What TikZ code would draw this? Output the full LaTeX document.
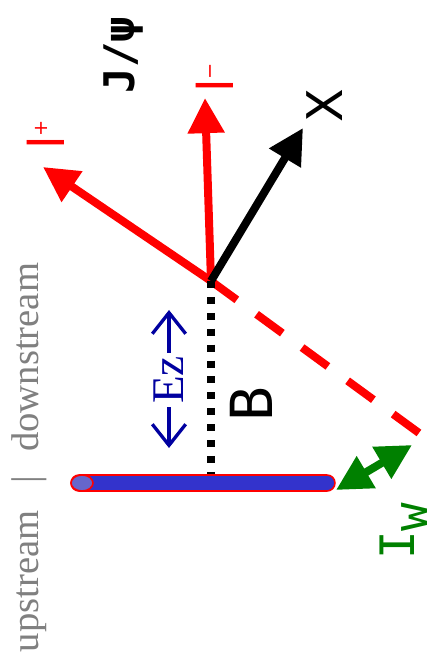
\documentclass[tikz,border=0pt]{standalone}
\usepackage{fontspec}
\setmainfont{Liberation Serif}
\newfontfamily\dvs{DejaVu Sans}
\newfontfamily\dvm{DejaVu Sans Mono}
\usetikzlibrary{arrows.meta,shapes.geometric}
\definecolor{trkred}{RGB}{255,0,0}
\definecolor{wgreen}{RGB}{0,128,0}
\definecolor{barblue}{RGB}{51,51,204}
\definecolor{capblue}{RGB}{102,102,204}
\definecolor{ezblue}{RGB}{0,0,160}
\definecolor{labgray}{RGB}{128,128,128}
\tikzset{
  bigtip/.tip={Triangle[length=20pt,width=20pt]},
  trk/.style={line width=4.55pt,-bigtip},
  lbl/.style={rotate=90,inner sep=0pt},
  ezarrow/.style={ezblue, line width=1.9pt, -{Straight Barb[length=12pt,width=19pt]}},
}
\begin{document}
\begin{tikzpicture}[x=0.02cm,y=-0.02cm]
\useasboundingbox (0,0) rectangle (431,671);
% coordinates
\coordinate (V) at (211,281);
\coordinate (lp) at (43,167);
\coordinate (lm) at (205,98);
\coordinate (xt) at (303,128);
\coordinate (de) at (419,433);
\coordinate (wa) at (336,490);
\coordinate (wb) at (412,445);
\coordinate (ezt) at (169,310);
\coordinate (ezb) at (169,448);
% wire
\node[draw=trkred, line width=0.9pt, fill=barblue, rounded corners=0.16cm,
      minimum width=5.28cm, minimum height=0.32cm, inner sep=0pt] (wire) at (203,483) {};
\node[ellipse, draw=trkred, line width=0.9pt, fill=capblue,
      minimum width=0.44cm, minimum height=0.32cm, inner sep=0pt] (cap) at (82,483) {};
% tracks
\draw[trkred, line width=4.55pt, dash pattern=on 18.2pt off 13.9pt] (V) -- (de);
\draw[trk, trkred] (V) -- (lp);
\draw[trk, trkred] (V) -- (lm);
\draw[trk, black] (V) -- (xt);
\draw[black, line width=4pt, dash pattern=on 4pt off 5.05pt] (V) -- (V |- wire.north);
\draw[wgreen, line width=4.55pt, bigtip-bigtip] (wa) -- (wb);
% labels
\node[lbl, font=\dvs\fontsize{28}{28}\selectfont, text=trkred] (lplus) at (46,135)
  {l\raisebox{.35em}{\fontsize{11}{11}\selectfont +}};
\node[lbl, font=\dvs\fontsize{28}{28}\selectfont, text=trkred] (lminus) at (215,78)
  {l\raisebox{.35em}{\fontsize{11}{11}\selectfont −}};
\node[lbl, font=\dvm\bfseries\fontsize{24}{24}\selectfont] (jpsi) at (124,55) {J/ψ};
\node[lbl, font=\dvs\fontsize{28}{28}\selectfont] (xl) at (325,106) {X};
\node[lbl, font=\dvm\fontsize{33}{33}\selectfont] (bl) at (251,404) {B};
\node[lbl, font=\dvm\fontsize{27}{27}\selectfont, text=wgreen] (iw) at (404,531)
  {I\raisebox{-0.27em}{w}};
\node[lbl, font=\fontsize{25.8}{25.8}\selectfont, text=ezblue] (ez) at (169,380) {Ez};
\draw[ezarrow] (ez.east) ++(0,-3) -- (ezt);
\draw[ezarrow] (ez.west) ++(0,3) -- (ezb);
\node[rotate=90, anchor=base, inner sep=0pt, font=\fontsize{22}{22}\selectfont, text=labgray]
  (ud) at (38,457.5) {upstream\hspace{0.7em}|\hspace{0.62em}downstream};
\end{tikzpicture}
\end{document}
